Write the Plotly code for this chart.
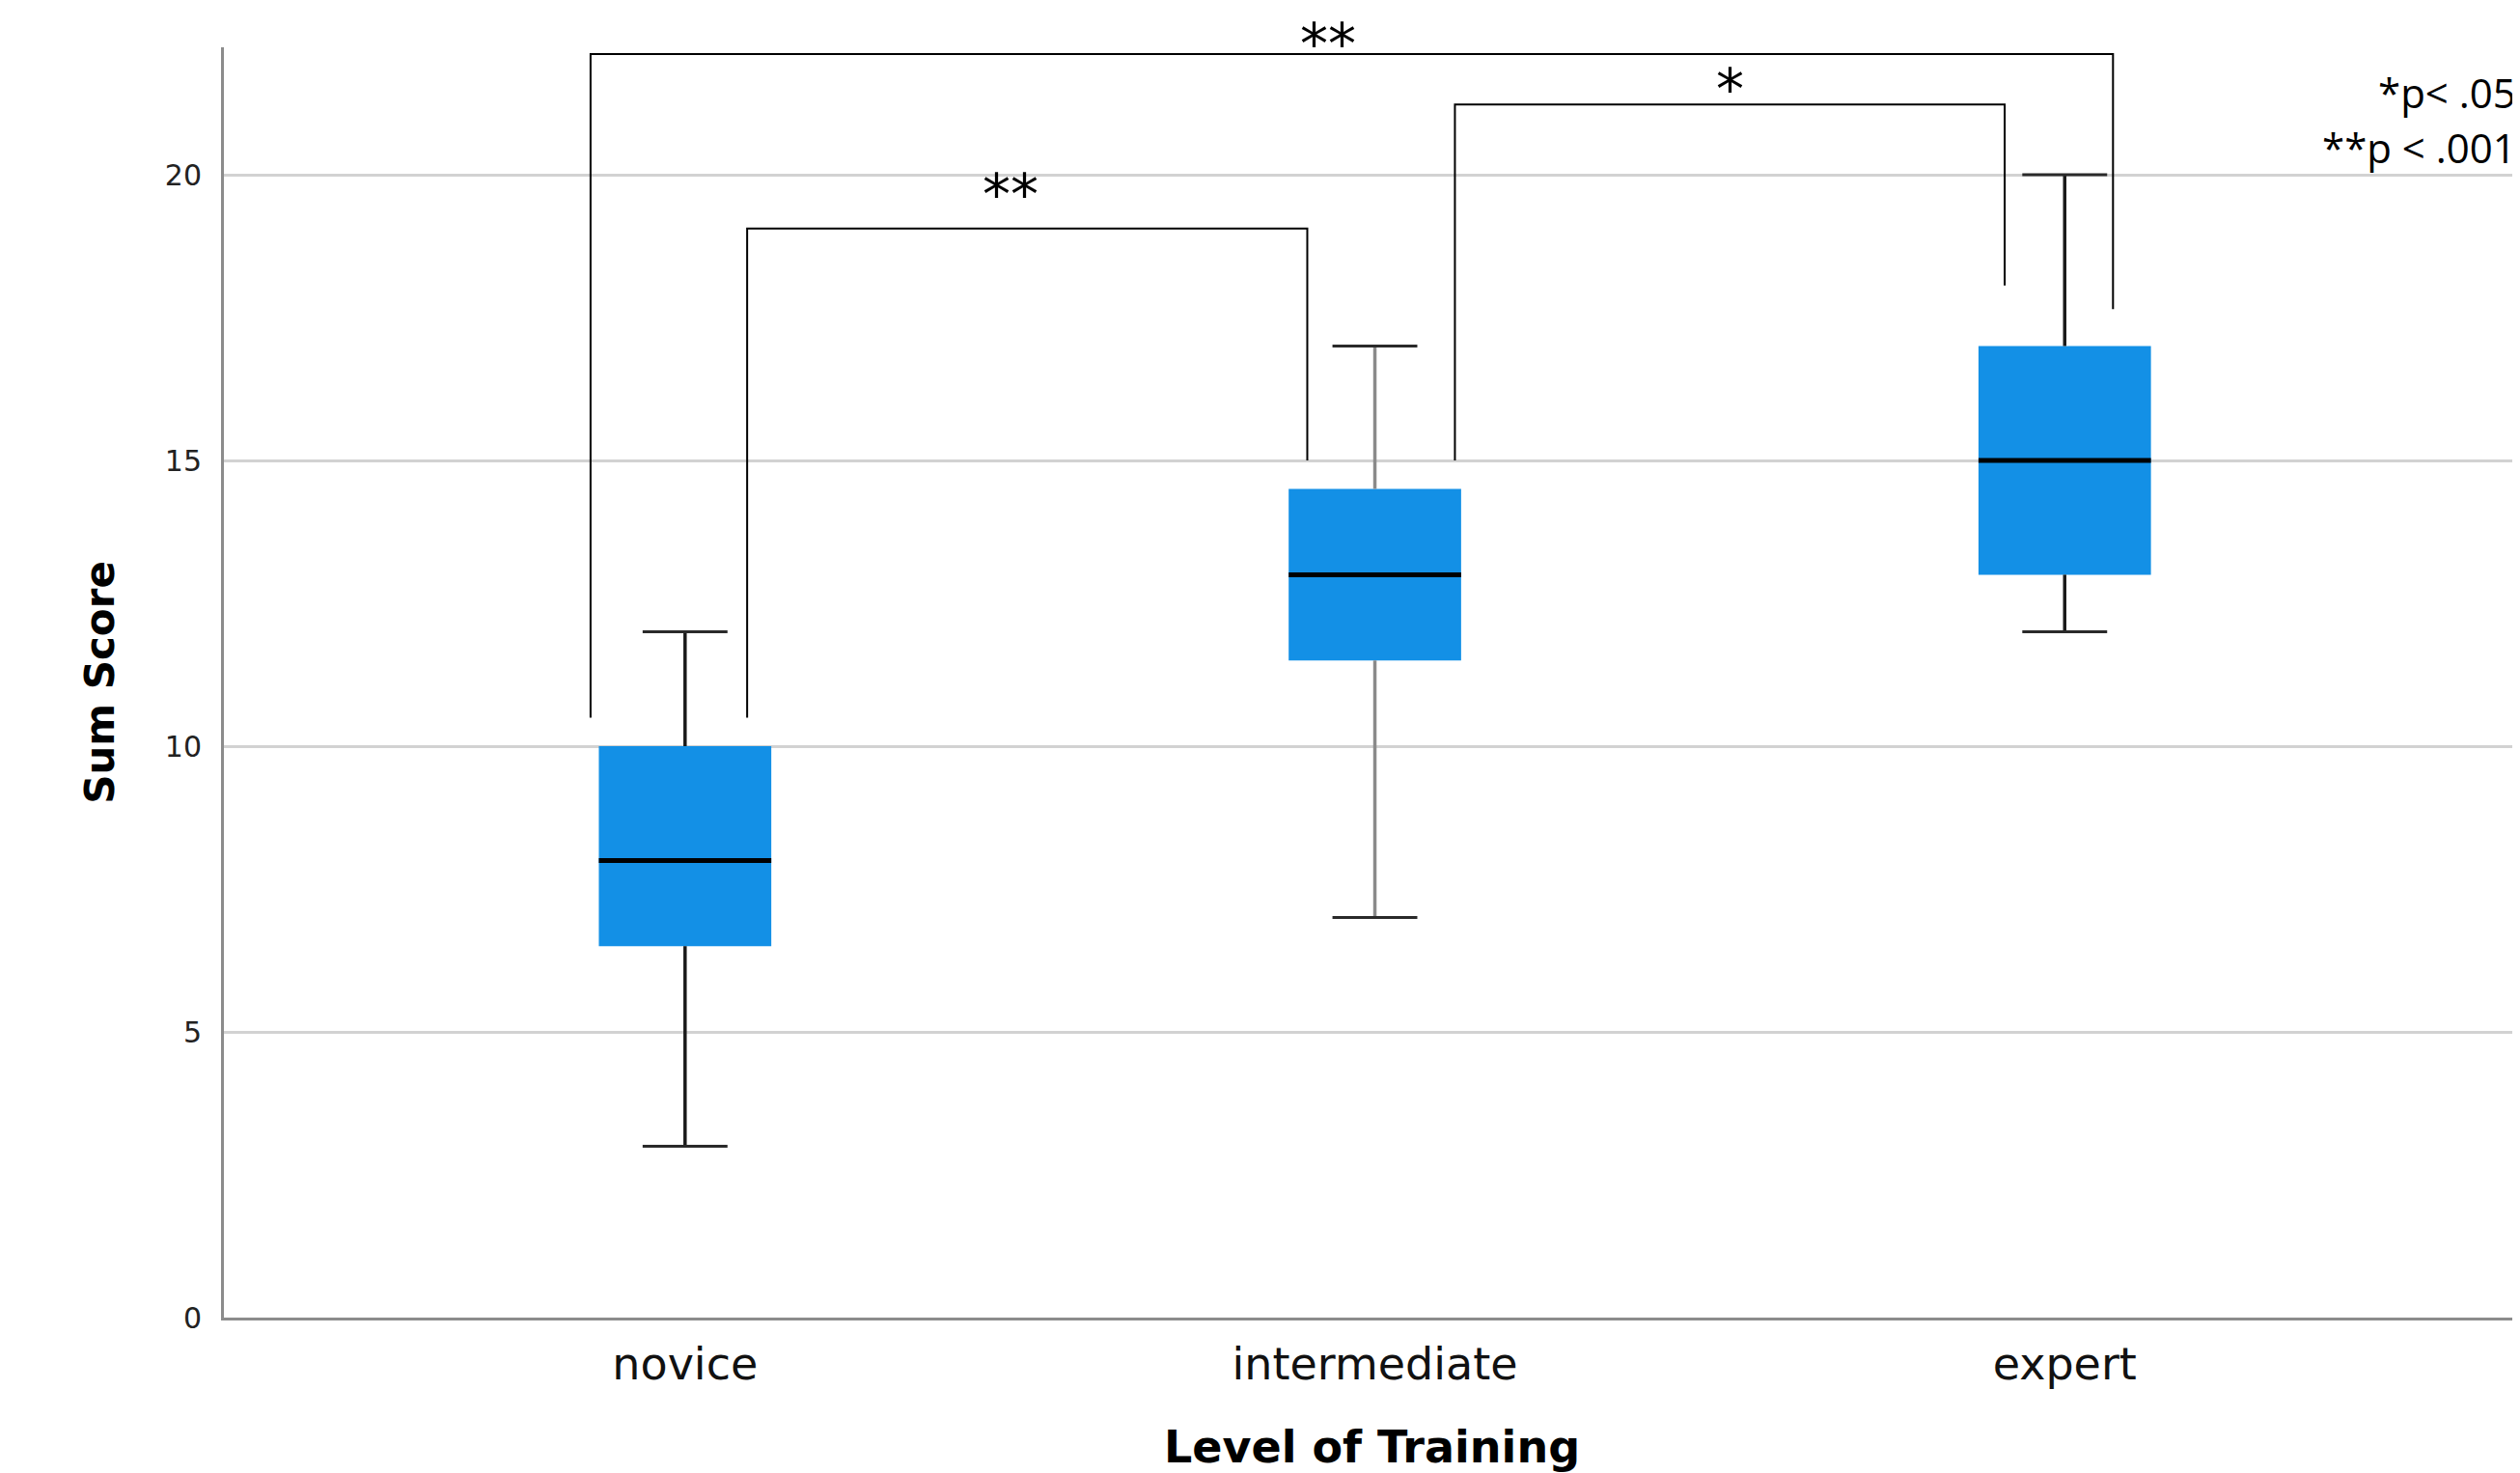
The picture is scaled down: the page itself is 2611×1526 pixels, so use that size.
import plotly.graph_objects as go
import numpy as np

# ---- data ----
categories = ["novice", "intermediate", "expert"]
q_min = [3, 7, 12]
q1 = [6.5, 11.5, 13]
median = [8, 13, 15]
q3 = [10, 14.5, 17]
q_max = [12, 17, 20]

y_ticks = [0, 5, 10, 15, 20]

# significance brackets: left x, right x, top y, left foot y, right foot y, label
bracket_x0 = [0.09, 1.116, -0.137]
bracket_x1 = [0.902, 1.913, 2.070]
bracket_top = [19.06, 21.23, 22.11]
bracket_foot0 = [10.5, 15.0, 10.5]
bracket_foot1 = [15.0, 18.06, 17.65]
bracket_labels = ["**", "*", "**"]

p_notes = ["*p< .05", "**p < .001"]

# ---- styles ----
BOX_COLOR = "#1390E6"
WHISKER_COLORS = ["#1a1a1a", "#8a8a8a", "#1a1a1a"]
BOX_W = 0.25
CAP_W = 0.123
LABEL_SHIFT_Y = [0, -20, -25]
LABEL_SHIFT_X = [-17, 0, -25]

pos = np.arange(len(categories))
fig = go.Figure()

# whiskers (under the box)
for i, c in enumerate(categories):
    fig.add_trace(go.Scatter(
        x=[pos[i], pos[i], None, pos[i], pos[i]],
        y=[q_min[i], q1[i], None, q3[i], q_max[i]],
        mode="lines", line=dict(color=WHISKER_COLORS[i], width=3.5),
        showlegend=False, hoverinfo="skip"))

# boxes
fig.add_trace(go.Bar(
    x=pos, y=np.array(q3) - np.array(q1), base=q1, width=BOX_W,
    marker=dict(color=BOX_COLOR, line=dict(width=0)),
    showlegend=False, hoverinfo="skip"))

# medians and caps
for i, c in enumerate(categories):
    fig.add_trace(go.Scatter(
        x=[pos[i] - BOX_W / 2, pos[i] + BOX_W / 2], y=[median[i], median[i]],
        mode="lines", line=dict(color="#000000", width=5),
        showlegend=False, hoverinfo="skip"))
    fig.add_trace(go.Scatter(
        x=[pos[i] - CAP_W / 2, pos[i] + CAP_W / 2, None,
           pos[i] - CAP_W / 2, pos[i] + CAP_W / 2],
        y=[q_min[i], q_min[i], None, q_max[i], q_max[i]],
        mode="lines", line=dict(color="#2a2a2a", width=3),
        showlegend=False, hoverinfo="skip"))

# significance brackets
for k, (x0, x1, yt, f0, f1, lab) in enumerate(zip(
        bracket_x0, bracket_x1, bracket_top, bracket_foot0, bracket_foot1, bracket_labels)):
    fig.add_trace(go.Scatter(
        x=[x0, x0, x1, x1], y=[f0, yt, yt, f1],
        mode="lines", line=dict(color="#000000", width=2),
        showlegend=False, hoverinfo="skip", cliponaxis=False))
    fig.add_annotation(
        x=(x0 + x1) / 2, y=yt, xref="x", yref="y", text=lab,
        showarrow=False, yanchor="bottom", borderpad=0,
        yshift=LABEL_SHIFT_Y[k], xshift=LABEL_SHIFT_X[k],
        font=dict(family="DejaVu Sans", size=58, color="#000000"))

# p-value notes
for k, (note, yp) in enumerate(zip(p_notes, [0.965, 0.921])):
    fig.add_annotation(
        x=1, y=yp, xref="paper", yref="paper", text=note,
        showarrow=False, xanchor="right", yanchor="middle", xshift=-2,
        font=dict(family="Open Sans", size=42, color="#000000"))

fig.update_layout(
    width=2603, height=1518,
    margin=dict(l=224, r=0, t=41, b=161, pad=0),
    paper_bgcolor="white", plot_bgcolor="white",
    showlegend=False,
    xaxis=dict(
        range=[-0.6685, 2.66],
        tickmode="array", tickvals=pos, ticktext=categories,
        showgrid=False, zeroline=False, showline=True,
        linecolor="#8c8c8c", linewidth=3, ticks="", ticklabelstandoff=6,
        tickfont=dict(family="DejaVu Sans", size=46, color="#111111"),
        title=dict(text="<b>Level of Training</b>", standoff=54,
                   font=dict(family="DejaVu Sans", size=46, color="#000000")),
    ),
    yaxis=dict(
        range=[0, 22.23],
        tickmode="array", tickvals=y_ticks,
        showgrid=True, gridcolor="#d2d2d2", gridwidth=3,
        zeroline=False, showline=True, linecolor="#8c8c8c", linewidth=3,
        ticks="", ticklabelstandoff=14,
        tickfont=dict(family="DejaVu Sans", size=30, color="#222222"),
        title=dict(text="<b>Sum Score</b>", standoff=40,
                   font=dict(family="DejaVu Sans", size=42, color="#000000")),
    ),
)

fig.write_html("out.html")
